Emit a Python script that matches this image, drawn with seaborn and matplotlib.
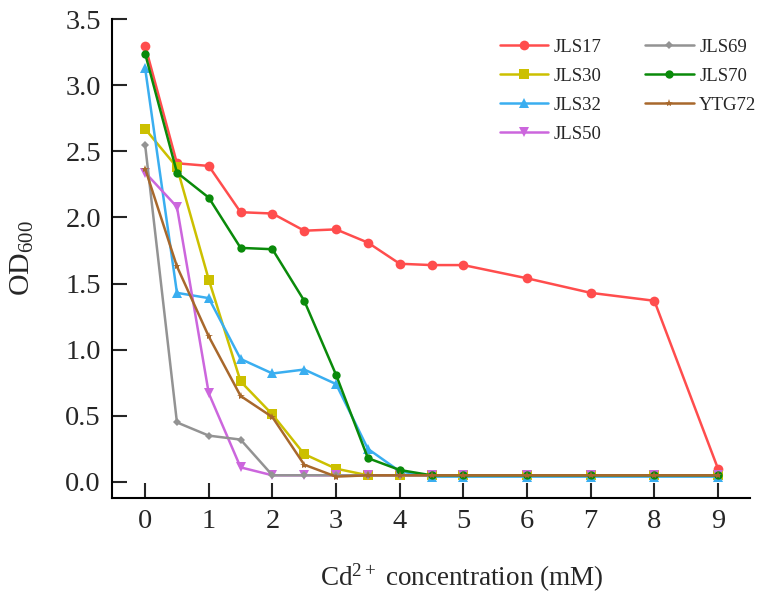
import numpy as np
import pandas as pd
import seaborn as sns
import matplotlib
matplotlib.use("Agg")
import matplotlib.pyplot as plt

conc = [0, 0.5, 1, 1.5, 2, 2.5, 3, 3.5, 4, 4.5, 5, 6, 7, 8, 9]
strains = ["JLS17", "JLS30", "JLS32", "JLS50", "JLS69", "JLS70", "YTG72"]
jls17 = [3.30, 2.41, 2.39, 2.04, 2.03, 1.90, 1.91, 1.81, 1.65, 1.64, 1.64, 1.54, 1.43, 1.37, 0.10]
jls30 = [2.67, 2.38, 1.53, 0.76, 0.51, 0.21, 0.10, 0.05, 0.05, 0.05, 0.05, 0.05, 0.05, 0.05, 0.05]
jls32 = [3.13, 1.43, 1.39, 0.93, 0.82, 0.85, 0.74, 0.25, 0.08, 0.04, 0.04, 0.04, 0.04, 0.04, 0.04]
jls50 = [2.34, 2.08, 0.67, 0.11, 0.05, 0.05, 0.05, 0.05, 0.05, 0.05, 0.05, 0.05, 0.05, 0.05, 0.05]
jls69 = [2.55, 0.45, 0.35, 0.32, 0.05, 0.05, 0.05, 0.05, 0.05, 0.05, 0.05, 0.05, 0.05, 0.05, 0.05]
jls70 = [3.24, 2.34, 2.15, 1.77, 1.76, 1.37, 0.81, 0.18, 0.09, 0.05, 0.05, 0.05, 0.05, 0.05, 0.05]
ytg72 = [2.37, 1.63, 1.10, 0.65, 0.49, 0.13, 0.04, 0.05, 0.05, 0.05, 0.05, 0.05, 0.05, 0.05, 0.05]
series = [jls17, jls30, jls32, jls50, jls69, jls70, ytg72]

colors = {"JLS17": "#FF4D4D", "JLS30": "#CCC000", "JLS32": "#3AAEF0", "JLS50": "#CC66DD",
          "JLS69": "#939393", "JLS70": "#0A8A0A", "YTG72": "#A8682C"}
markers = {"JLS17": "o", "JLS30": "s", "JLS32": "^", "JLS50": "v",
           "JLS69": "D", "JLS70": "o", "YTG72": "*"}
msizes = {"JLS17": 7, "JLS30": 7, "JLS32": 7, "JLS50": 7, "JLS69": 4.5, "JLS70": 6, "YTG72": 6}

rows = []
for name, vals in zip(strains, series):
    for c, v in zip(conc, vals):
        rows.append((name, c, v))
df = pd.DataFrame(rows, columns=["strain", "conc", "od"])

sns.set_style("ticks")
plt.rcParams["font.family"] = ["Liberation Serif", "DejaVu Serif"]
plt.rcParams["mathtext.fontset"] = "custom"
plt.rcParams["mathtext.rm"] = "Liberation Serif"
plt.rcParams["mathtext.it"] = "Liberation Serif:italic"

fig = plt.figure(figsize=(7.62, 5.99), dpi=100)
ax = fig.add_axes([0.147, 0.169, 0.837, 0.799])

for name in strains:
    sub = df[df.strain == name]
    sns.lineplot(data=sub, x="conc", y="od", ax=ax, color=colors[name],
                 marker=markers[name], markersize=msizes[name], markeredgewidth=0,
                 linewidth=1.8, label=name)

ax.set_xlim(-0.52, 9.5)
ax.set_ylim(-0.12, 3.5)
ax.set_xticks(range(10))
ax.set_yticks(np.arange(0, 3.51, 0.5))
ax.set_yticklabels([f"{v:.1f}" for v in np.arange(0, 3.51, 0.5)])
ax.tick_params(direction="in", length=11, width=1.5, labelsize=20.5, pad=8)
for s in ["top", "right"]:
    ax.spines[s].set_visible(False)
for s in ["left", "bottom"]:
    ax.spines[s].set_linewidth(1.5)
    ax.spines[s].set_color("black")

ax.set_xlabel("Cd$^{2+}$ concentration (mM)", fontsize=19.5, labelpad=20)
ax.xaxis.set_label_coords(0.548, -0.134)
ax.set_ylabel("OD$_{600}$", fontsize=21.5, labelpad=21)

ax.legend(ncol=2, frameon=False, fontsize=13.5, loc="upper right",
          bbox_to_anchor=(1.037, 0.995), handlelength=2.6, columnspacing=2.3,
          labelspacing=0.64, handletextpad=0.3)

fig.savefig("out.png", dpi=100)
